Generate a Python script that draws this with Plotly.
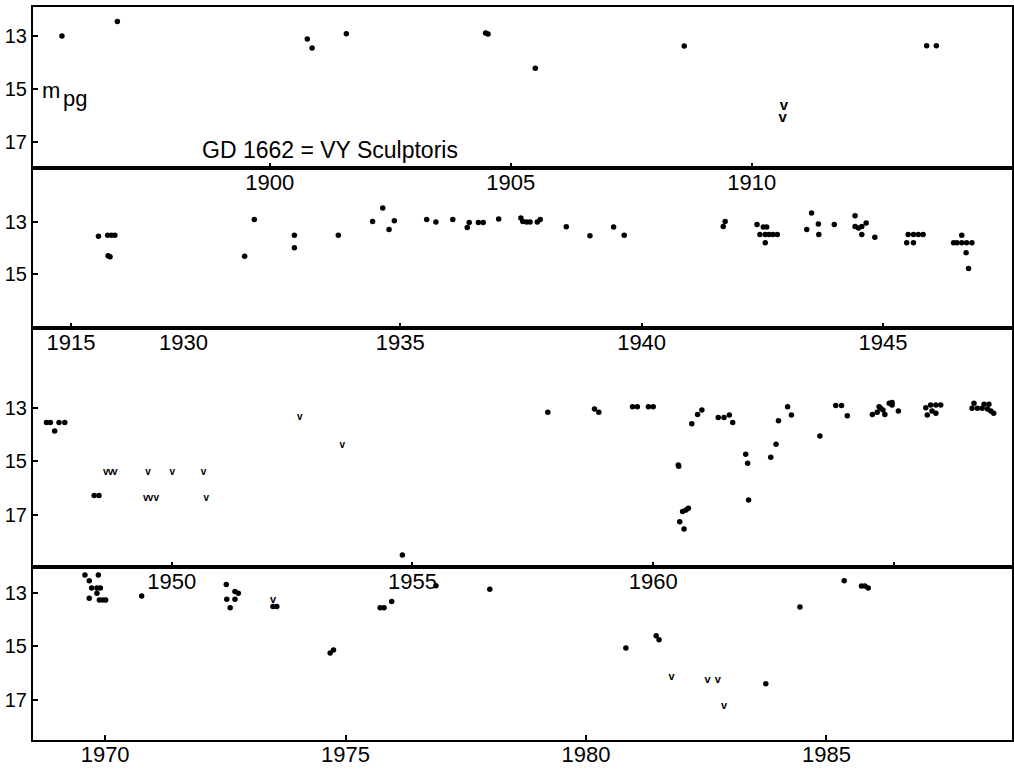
import plotly.graph_objects as go

# ---------------- data (year, photographic magnitude) ----------------
# Panel 1: 1895-1915
p1_year = [1895.69, 1896.84, 1900.78, 1900.88, 1901.59, 1904.48, 1904.53, 1905.51, 1908.60, 1913.63, 1913.83]
p1_mag = [13.00, 12.46, 13.12, 13.46, 12.92, 12.89, 12.93, 14.22, 13.38, 13.37, 13.37]
p1_lim_year = [1910.67, 1910.64]
p1_lim_mag = [15.64, 16.11]

# Panel 2a: 1914-1916
p2a_year = [1915.57, 1915.76, 1915.84, 1915.91, 1915.77, 1915.81]
p2a_mag = [13.55, 13.52, 13.52, 13.52, 14.29, 14.33]

# Panel 2b: 1930-1947
p2b_year = [1931.78, 1931.98, 1932.81, 1932.81, 1933.72, 1934.43, 1934.64, 1934.77, 1934.88,
            1935.55, 1935.74, 1936.09, 1936.39, 1936.43, 1936.62, 1936.72, 1937.04, 1937.50,
            1937.54, 1937.62, 1937.69, 1937.84, 1937.90, 1938.44, 1938.93, 1939.42, 1939.64,
            1941.69, 1941.73, 1942.39, 1942.52, 1942.59, 1942.45, 1942.56, 1942.64, 1942.72,
            1942.81, 1942.56, 1943.42, 1943.52, 1943.66, 1943.67, 1943.99, 1944.42, 1944.42,
            1944.49, 1944.56, 1944.65, 1944.56, 1944.83, 1945.52, 1945.63, 1945.73, 1945.83,
            1945.49, 1945.63, 1946.63, 1946.46, 1946.53, 1946.63, 1946.73, 1946.84, 1946.72,
            1946.77]
p2b_mag = [14.31, 12.92, 13.52, 13.99, 13.52, 12.99, 12.48, 13.30, 12.96,
           12.92, 13.01, 12.92, 13.22, 13.03, 13.03, 13.03, 12.90, 12.86,
           12.99, 13.01, 13.01, 13.01, 12.92, 13.19, 13.53, 13.20, 13.52,
           13.18, 12.99, 13.11, 13.20, 13.20, 13.49, 13.49, 13.49, 13.49,
           13.49, 13.80, 13.30, 12.67, 13.09, 13.49, 13.11, 12.77, 13.18,
           13.24, 13.18, 13.05, 13.49, 13.59, 13.49, 13.49, 13.49, 13.49,
           13.80, 13.80, 13.52, 13.80, 13.80, 13.80, 13.80, 13.80, 14.18,
           14.78]

# Panel 3: 1947-1967
p3_year = [1947.40, 1947.48, 1947.66, 1947.78, 1947.57, 1948.39, 1948.49, 1954.79,
           1957.81, 1958.78, 1958.87, 1959.57, 1959.67, 1959.90, 1960.00,
           1960.80, 1960.92, 1961.01, 1961.35, 1961.47, 1961.58, 1961.65,
           1960.52, 1960.53, 1960.73, 1960.68, 1960.61, 1960.55, 1960.64,
           1961.92, 1961.96, 1961.98, 1962.44, 1962.55, 1962.60, 1962.79, 1962.87,
           1963.46, 1963.79, 1963.91, 1964.03,
           1964.55, 1964.65, 1964.69, 1964.72, 1964.77, 1964.81,
           1964.90, 1964.96, 1964.96, 1965.09,
           1965.66, 1965.69, 1965.76, 1965.79, 1965.87, 1965.87, 1965.97,
           1966.66, 1966.62, 1966.73, 1966.83, 1966.87, 1966.97, 1966.94, 1967.01, 1967.07]
p3_mag = [13.54, 13.54, 13.54, 13.54, 13.86, 16.28, 16.28, 18.51,
          13.16, 13.04, 13.16, 12.95, 12.95, 12.95, 12.95,
          13.59, 13.24, 13.07, 13.36, 13.36, 13.26, 13.54,
          15.14, 15.18, 16.76, 16.82, 16.88, 17.26, 17.54,
          14.73, 15.07, 16.45, 14.85, 14.36, 13.48, 12.95, 13.26,
          14.05, 12.91, 12.91, 13.29,
          13.24, 13.16, 12.95, 13.01, 13.07, 13.24,
          12.82, 12.79, 12.89, 13.11,
          12.99, 13.26, 12.89, 13.11, 13.20, 12.89, 12.89,
          12.82, 13.01, 13.01, 13.01, 12.86, 12.86, 13.04, 13.11, 13.20]
p3_lim_year = [1948.63, 1948.73, 1948.82, 1949.51, 1949.46, 1949.56, 1949.68,
               1950.01, 1950.66, 1950.72, 1952.66, 1953.54]
p3_lim_mag = [15.41, 15.41, 15.41, 15.41, 16.41, 16.41, 16.41,
              15.41, 15.41, 16.38, 13.36, 14.41]

# Panel 4: 1968-1989
p4_year = [1969.58, 1969.67, 1969.86, 1969.72, 1969.83, 1969.90, 1969.83, 1969.67,
           1969.88, 1969.95, 1970.01, 1970.76, 1972.52, 1972.53, 1972.60, 1972.70,
           1972.70, 1972.77, 1973.49, 1973.57, 1974.68, 1974.75, 1975.72, 1975.80,
           1975.96, 1976.88, 1978.00, 1980.83, 1981.46, 1981.52, 1983.74, 1984.45,
           1985.37, 1985.73, 1985.80, 1985.87]
p4_mag = [12.33, 12.54, 12.33, 12.82, 12.82, 12.82, 13.01, 13.20,
          13.26, 13.26, 13.26, 13.11, 12.68, 13.24, 13.55, 12.95,
          13.24, 13.01, 13.51, 13.51, 15.25, 15.13, 13.55, 13.55,
          13.32, 12.73, 12.86, 15.06, 14.60, 14.75, 16.40, 13.53,
          12.54, 12.74, 12.74, 12.82]
p4_lim_year = [1973.49, 1981.78, 1982.53, 1982.74, 1982.87]
p4_lim_mag = [13.29, 16.15, 16.25, 16.25, 17.22]

# tick labels
p1_ticks = [1900, 1905, 1910]
p2a_ticks = [1915]
p2b_ticks = [1935, 1940, 1945]
p3_ticks = [1950, 1955, 1960, 1965]
p3_ticktext = ["1950", "1955", "1960", ""]
p4_ticks = [1970, 1975, 1980, 1985]
mag_ticks = [13, 15, 17]

# ---------------- layout geometry (pixels of a 1014 x 771 canvas) ----------------
W, H = 1014, 771
def px(x):
    return x / W
def py(y):
    return 1 - y / H

XL, XR, XSPLIT = 33, 1012, 150
rows = {1: (7, 168), 2: (168, 328), 3: (328, 567), 4: (567, 740)}

REG = "Liberation Sans, Arial, sans-serif"

fig = go.Figure()

def dots(x, y, xa, ya, size=5.5):
    fig.add_trace(go.Scatter(x=x, y=y, xaxis=xa, yaxis=ya, mode="markers",
                             marker=dict(color="black", size=size, line=dict(width=0)),
                             showlegend=False, hoverinfo="x+y"))

def limits(x, y, xa, ya, fsize):
    fig.add_trace(go.Scatter(x=x, y=y, xaxis=xa, yaxis=ya, mode="text",
                             text=["v"] * len(x), textposition="middle center",
                             textfont=dict(family="Liberation Sans, Arial, sans-serif", size=fsize,
                                           color="black", weight="bold"),
                             showlegend=False, hoverinfo="x+y"))

dots(p1_year, p1_mag, "x", "y")
limits(p1_lim_year, p1_lim_mag, "x", "y", 15)
dots(p2a_year, p2a_mag, "x2", "y2")
dots(p2b_year, p2b_mag, "x3", "y3")
dots(p3_year, p3_mag, "x4", "y4")
limits(p3_lim_year, p3_lim_mag, "x4", "y4", 10)
dots(p4_year, p4_mag, "x5", "y5")
limits(p4_lim_year, p4_lim_mag, "x5", "y5", 11)

ax_common = dict(showline=True, linecolor="black", linewidth=2, showgrid=False, zeroline=False,
                 ticks="inside", ticklen=5, tickwidth=1.5, tickcolor="black")
xfont = dict(family=REG, size=22, color="black")
yfont = dict(family=REG, size=20, color="black")
XSTAND = -6

def ydom(r):
    top, bot = rows[r]
    return [py(bot), py(top)]

layout = dict(
    width=W, height=H, margin=dict(l=0, r=0, t=0, b=0),
    paper_bgcolor="white", plot_bgcolor="white", showlegend=False,
    # panel 1
    xaxis=dict(ax_common, domain=[px(XL), px(XR)], range=[1895.09, 1915.40], anchor="y",
               mirror=True, tickvals=p1_ticks, tickfont=xfont, ticklabelstandoff=XSTAND),
    yaxis=dict(ax_common, domain=ydom(1), range=[17.98, 11.91], anchor="x", mirror=True,
               tickvals=mag_ticks, tickfont=yfont),
    # panel 2a
    xaxis2=dict(ax_common, domain=[px(XL), px(XSPLIT)], range=[1914.21, 1916.64], anchor="y2",
                mirror=True, tickvals=p2a_ticks, tickfont=xfont, ticklabelstandoff=XSTAND),
    yaxis2=dict(ax_common, domain=ydom(2), range=[17.04, 10.96], anchor="x2", mirror=False,
                tickvals=[13, 15], tickfont=yfont),
    # panel 2b
    xaxis3=dict(ax_common, domain=[px(XSPLIT), px(XR)], range=[1929.82, 1947.67], anchor="y3",
                mirror=True, tickvals=p2b_ticks, tickfont=xfont, ticklabelstandoff=XSTAND),
    yaxis3=dict(showline=True, linecolor="black", linewidth=2, showgrid=False, zeroline=False,
                domain=ydom(2), range=[17.04, 10.96], anchor="x3", side="right",
                showticklabels=False, ticks=""),
    # panel 3
    xaxis4=dict(ax_common, domain=[px(XL), px(XR)], range=[1947.12, 1967.45], anchor="y4",
                mirror=True, tickvals=p3_ticks, ticktext=p3_ticktext, tickfont=xfont,
                ticklabelstandoff=XSTAND),
    yaxis4=dict(ax_common, domain=ydom(3), range=[18.96, 10.0], anchor="x4", mirror=True,
                tickvals=mag_ticks, tickfont=yfont),
    # panel 4
    xaxis5=dict(ax_common, domain=[px(XL), px(XR)], range=[1968.50, 1988.86], anchor="y5",
                mirror=True, tickvals=p4_ticks, tickfont=xfont, ticklabelstandoff=XSTAND),
    yaxis5=dict(ax_common, domain=ydom(4), range=[18.5, 12.03], anchor="x5", mirror=True,
                tickvals=mag_ticks, tickfont=yfont),
)
fig.update_layout(**layout)

fig.add_annotation(text="GD 1662 = VY Sculptoris", xref="paper", yref="paper",
                   x=px(200), y=py(150), xanchor="left", yanchor="middle", showarrow=False,
                   font=dict(family=REG, size=23, color="black"))
fig.add_annotation(text="m", xref="paper", yref="paper", x=px(40), y=py(90),
                   xanchor="left", yanchor="middle", showarrow=False,
                   font=dict(family=REG, size=22, color="black"))
fig.add_annotation(text="pg", xref="paper", yref="paper", x=px(61), y=py(99),
                   xanchor="left", yanchor="middle", showarrow=False,
                   font=dict(family=REG, size=22, color="black"))
fig.add_annotation(text="1930", xref="paper", yref="paper", x=px(183), y=py(342),
                   xanchor="center", yanchor="middle", showarrow=False,
                   font=xfont)

fig.write_html("out.html", config={"displayModeBar": False},
               post_script="document.body.style.margin='0px';")
